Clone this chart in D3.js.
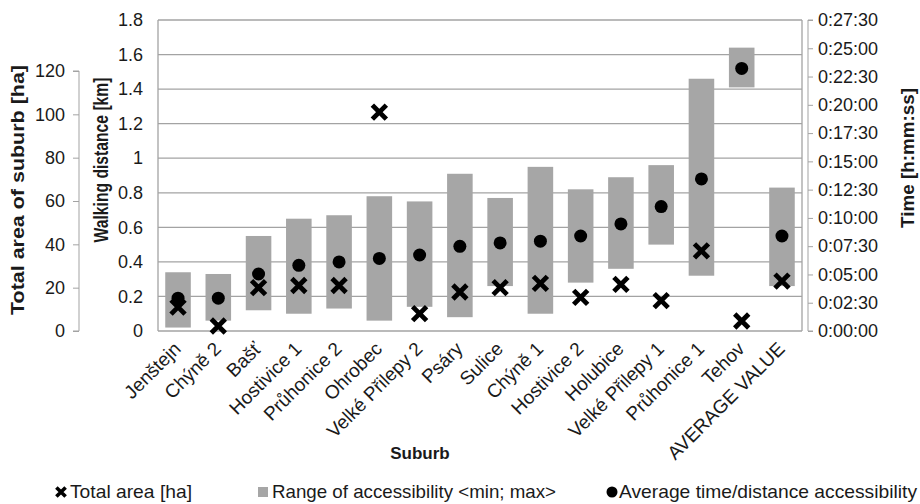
<!DOCTYPE html>
<html>
<head>
<meta charset="utf-8">
<script src="https://cdn.jsdelivr.net/npm/d3@7"></script>
<style>
  html, body { margin: 0; padding: 0; background: #fff; }
  svg { display: block; font-family: "Liberation Sans", Arial, sans-serif; }
</style>
</head>
<body>
<svg id="chart" width="920" height="504"></svg>
<script>
const categories = ["Jenštejn", "Chýně 2", "Bašť", "Hostivice 1", "Průhonice 2", "Ohrobec",
  "Velké Přilepy 2", "Psáry", "Sulice", "Chýně 1", "Hostivice 2", "Holubice",
  "Velké Přilepy 1", "Průhonice 1", "Tehov", "AVERAGE VALUE"];
const rangeMin = [0.02, 0.06, 0.12, 0.10, 0.13, 0.06, 0.14, 0.08, 0.26, 0.10, 0.28, 0.36, 0.50, 0.32, 1.41, 0.26];
const rangeMax = [0.34, 0.33, 0.55, 0.65, 0.67, 0.78, 0.75, 0.91, 0.77, 0.95, 0.82, 0.89, 0.96, 1.46, 1.64, 0.83];
const avgAccess = [0.19, 0.19, 0.33, 0.38, 0.40, 0.42, 0.44, 0.49, 0.51, 0.52, 0.55, 0.62, 0.72, 0.88, 1.52, 0.55];
const totalArea = [11, 2.3, 20, 21, 21, 101, 8, 18, 20, 22, 15.5, 21.5, 14, 37, 4.6, 23];
const kmTicks = [0, 0.2, 0.4, 0.6, 0.8, 1, 1.2, 1.4, 1.6, 1.8];
const areaTicks = [0, 20, 40, 60, 80, 100, 120];
const timeTicks = [0, 2.5, 5, 7.5, 10, 12.5, 15, 17.5, 20, 22.5, 25, 27.5]; // minutes

const svg = d3.select("#chart");
const L = 158, R = 802, T = 20, B = 331;
const txt = "#1a1a1a";
const FF = "Liberation Sans, Arial, sans-serif";

const x = d3.scaleBand().domain(categories).range([L, R]).paddingInner(0.365).paddingOuter(0.18);
const yKm = d3.scaleLinear().domain([0, 1.8]).range([B, T]);
const yArea = d3.scaleLinear().domain([0, 120]).range([B, 71]);
const yTime = d3.scaleLinear().domain([0, 27.5]).range([B, T]);

// gridlines
svg.append("g").selectAll("line").data(kmTicks).join("line")
  .attr("x1", L).attr("x2", R).attr("y1", d => yKm(d)).attr("y2", d => yKm(d))
  .attr("stroke", "#a3a3a3").attr("stroke-width", 1.3);
svg.append("line").attr("x1", L).attr("x2", L).attr("y1", T).attr("y2", B).attr("stroke", "#a3a3a3").attr("stroke-width", 1.3);
svg.append("line").attr("x1", R).attr("x2", R).attr("y1", T).attr("y2", B).attr("stroke", "#a3a3a3").attr("stroke-width", 1.3);

// km axis (left, inner)
const kmAxis = d3.axisLeft(yKm).tickValues(kmTicks).tickSize(0).tickPadding(0)
  .tickFormat(d => d === 0 ? "0" : String(+d.toFixed(1)));
const gKm = svg.append("g").attr("transform", `translate(${L - 15},0)`).call(kmAxis);
gKm.select(".domain").remove();
gKm.selectAll("text").attr("font-size", 18).attr("fill", txt).attr("font-family", FF);

// area axis (far left)
const areaAxis = d3.axisLeft(yArea).tickValues(areaTicks).tickSize(6).tickPadding(8);
const gArea = svg.append("g").attr("transform", "translate(79,0)").call(areaAxis);
gArea.select(".domain").attr("stroke", "#a3a3a3").attr("d", `M-6,${yArea(120)}H0V${yArea(0)}H-6`);
gArea.selectAll(".tick line").attr("stroke", "#a3a3a3");
gArea.selectAll("text").attr("font-size", 18).attr("fill", txt).attr("font-family", FF);

// time axis (right)
const fmtTime = m => { const s = Math.round(m * 60); const mm = Math.floor(s / 60), ss = s % 60; return "0:" + String(mm).padStart(2, "0") + ":" + String(ss).padStart(2, "0"); };
const timeAxis = d3.axisRight(yTime).tickValues(timeTicks).tickSize(5).tickPadding(5).tickFormat(fmtTime);
const gTime = svg.append("g").attr("transform", "translate(808,0)").call(timeAxis);
gTime.select(".domain").attr("stroke", "#a3a3a3").attr("d", `M5,${T}H0V${B}H5`);
gTime.selectAll(".tick line").attr("stroke", "#a3a3a3");
gTime.selectAll("text").attr("font-size", 18).attr("fill", txt).attr("font-family", FF);

// range bars
svg.append("g").selectAll("rect").data(categories).join("rect")
  .attr("x", d => x(d)).attr("width", x.bandwidth())
  .attr("y", (d, i) => yKm(rangeMax[i])).attr("height", (d, i) => yKm(rangeMin[i]) - yKm(rangeMax[i]))
  .attr("fill", "#a6a6a6");

// average dots
svg.append("g").selectAll("circle").data(categories).join("circle")
  .attr("cx", d => x(d) + x.bandwidth() / 2).attr("cy", (d, i) => yKm(avgAccess[i]))
  .attr("r", 6.5).attr("fill", "#000");

// area crosses
const cross = s => `M${-s},${-s}L${s},${s}M${-s},${s}L${s},${-s}`;
svg.append("g").selectAll("path").data(categories).join("path")
  .attr("transform", (d, i) => `translate(${x(d) + x.bandwidth() / 2},${yArea(totalArea[i])})`)
  .attr("d", cross(7)).attr("stroke", "#000").attr("stroke-width", 4.8).attr("fill", "none");

// x labels
svg.append("g").selectAll("text").data(categories).join("text")
  .attr("transform", d => `translate(${x(d) + x.bandwidth() / 2 + 4},350) rotate(-45)`)
  .attr("text-anchor", "end").attr("font-size", 19).attr("fill", txt)
  .text(d => d);

// axis titles
svg.append("text").attr("transform", "translate(24,190) rotate(-90)")
  .attr("text-anchor", "middle").attr("font-weight", "bold").attr("font-size", 18).attr("fill", txt)
  .attr("textLength", 250).attr("lengthAdjust", "spacingAndGlyphs")
  .text("Total area of suburb [ha]");
svg.append("text").attr("transform", "translate(108,160) rotate(-90)")
  .attr("text-anchor", "middle").attr("font-weight", "bold").attr("font-size", 20).attr("fill", txt)
  .attr("textLength", 165).attr("lengthAdjust", "spacingAndGlyphs")
  .text("Walking distance [km]");
svg.append("text").attr("transform", "translate(914,158) rotate(-90)")
  .attr("text-anchor", "middle").attr("font-weight", "bold").attr("font-size", 18).attr("fill", txt)
  .attr("textLength", 140).attr("lengthAdjust", "spacingAndGlyphs")
  .text("Time  [h:mm:ss]");
svg.append("text").attr("x", 420).attr("y", 459)
  .attr("text-anchor", "middle").attr("font-weight", "bold").attr("font-size", 17).attr("fill", txt)
  .text("Suburb");

// legend
const lg = svg.append("g").attr("font-size", 18.5).attr("fill", txt);
lg.append("path").attr("transform", "translate(61,492)").attr("d", cross(4.6)).attr("stroke", "#000").attr("stroke-width", 3.6);
lg.append("text").attr("x", 70).attr("y", 498).attr("textLength", 122).attr("lengthAdjust", "spacingAndGlyphs").text("Total area [ha]");
lg.append("rect").attr("x", 258).attr("y", 487).attr("width", 10).attr("height", 10).attr("fill", "#a6a6a6");
lg.append("text").attr("x", 272).attr("y", 498).attr("textLength", 284).attr("lengthAdjust", "spacingAndGlyphs").text("Range of accessibility <min; max>");
lg.append("circle").attr("cx", 612).attr("cy", 492).attr("r", 5.5).attr("fill", "#000");
lg.append("text").attr("x", 619).attr("y", 498).attr("textLength", 298).attr("lengthAdjust", "spacingAndGlyphs").text("Average  time/distance accessibility");
</script>
</body>
</html>
